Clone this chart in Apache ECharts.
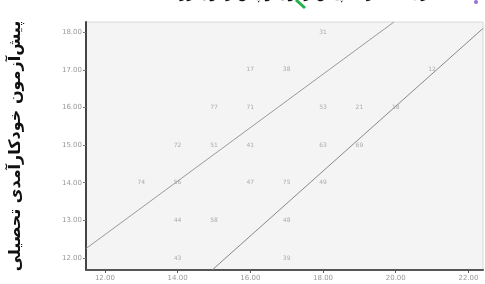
<!DOCTYPE html>
<html lang="fa">
<head>
    <meta charset="UTF-8">
    <title>پیش‌آزمون خودکارآمدی تحصیلی</title>
    <script src="https://cdn.jsdelivr.net/npm/echarts@6/dist/echarts.min.js"></script>
    <style>
        * { margin: 0; padding: 0; box-sizing: border-box; }
        body { background: #fff; }
        #chart { width: 485px; height: 284px; }
    </style>
</head>
<body>
    <div id="chart"></div>
    <script>
        // نقاط (x، y) و برچسب هر مورد
        const pointX = [18, 16, 17, 21, 15, 16, 18, 19, 20, 14, 15, 16, 18, 19, 13, 14, 16, 17, 18, 14, 15, 17, 14, 17];
        const pointY = [18, 17, 17, 17, 16, 16, 16, 16, 16, 15, 15, 15, 15, 15, 14, 14, 14, 14, 14, 13, 13, 13, 12, 12];
        const pointLabels = ['31', '17', '38', '12', '77', '71', '53', '21', '18', '72', '51', '41', '63', '69', '74', '56', '47', '75', '49', '44', '58', '48', '43', '39'];

        // دو خط (نقطه‌های ابتدا و انتها)
        const line1X = [11.48, 19.95];
        const line1Y = [12.25, 18.27];
        const line2X = [14.95, 22.4];
        const line2Y = [11.68, 18.1];

        const xTicks = [12, 14, 16, 18, 20, 22];
        const yTicks = [12, 13, 14, 15, 16, 17, 18];

        const chart = echarts.init(document.getElementById('chart'));

        const tickLabel = { fontSize: 7, color: '#999', fontFamily: 'DejaVu Sans' };

        chart.setOption({
            animation: false,
            grid: {
                left: 83, top: 22, right: 2, bottom: 14,
                show: true,
                backgroundColor: '#f4f4f4',
                borderColor: '#d8d8d8',
                borderWidth: 1
            },
            xAxis: {
                type: 'value',
                min: 11.48,
                max: 22.4,
                splitLine: { show: false },
                axisLine: { onZero: false, lineStyle: { color: '#555', width: 2 } },
                axisTick: { customValues: xTicks, length: 3, lineStyle: { color: '#555' } },
                axisLabel: Object.assign({
                    customValues: xTicks,
                    margin: 5,
                    formatter: v => v.toFixed(2)
                }, tickLabel)
            },
            yAxis: {
                type: 'value',
                min: 11.68,
                max: 18.27,
                splitLine: { show: false },
                axisLine: { onZero: false, lineStyle: { color: '#444', width: 2 } },
                axisTick: { customValues: yTicks, length: 3, lineStyle: { color: '#777' } },
                axisLabel: Object.assign({
                    customValues: yTicks,
                    margin: 4,
                    formatter: v => v.toFixed(2)
                }, tickLabel),
                name: 'پیش‌آزمون خودکارآمدی تحصیلی',
                nameLocation: 'middle',
                nameRotate: 90,
                nameGap: 62,
                nameTextStyle: {
                    fontSize: 16,
                    fontWeight: 'bold',
                    color: '#111',
                    fontFamily: 'DejaVu Sans'
                }
            },
            series: [
                {
                    type: 'scatter',
                    symbolSize: 1,
                    itemStyle: { color: 'rgba(0,0,0,0)' },
                    label: {
                        show: true,
                        position: 'inside',
                        formatter: p => pointLabels[p.dataIndex],
                        fontSize: 6,
                        color: '#999',
                        fontFamily: 'DejaVu Sans'
                    },
                    data: pointX.map((x, i) => [x, pointY[i]])
                },
                {
                    type: 'line',
                    symbol: 'none',
                    lineStyle: { color: '#999', width: 1 },
                    data: line1X.map((x, i) => [x, line1Y[i]])
                },
                {
                    type: 'line',
                    symbol: 'none',
                    lineStyle: { color: '#888', width: 1 },
                    data: line2X.map((x, i) => [x, line2Y[i]])
                }
            ],
            graphic: [
                {
                    type: 'text',
                    left: 180,
                    top: -13,
                    style: {
                        text: 'رابطه نمرات پیش‌آزمون و پس‌آزمون رر',
                        fontSize: 15,
                        fill: '#111',
                        fontFamily: 'DejaVu Sans'
                    }
                },
                {
                    type: 'line',
                    shape: { x1: 296, y1: 0, x2: 305, y2: 8 },
                    style: { stroke: '#22b14c', lineWidth: 3 }
                },
                {
                    type: 'circle',
                    shape: { cx: 476, cy: 2, r: 2 },
                    style: { fill: '#9b6fd0' }
                }
            ]
        });
    </script>
</body>
</html>
